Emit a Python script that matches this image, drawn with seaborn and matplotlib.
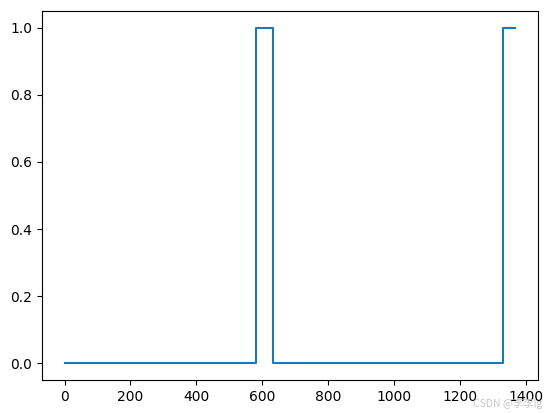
import matplotlib
matplotlib.use('Agg')
import matplotlib.pyplot as plt
import seaborn as sns

# step signal: value held from each x until the next one
step_x = [0, 582, 632, 1330, 1369]
step_y = [0, 1, 0, 1, 1]

fig = plt.figure(figsize=(5.51, 4.13), dpi=100)
ax = fig.add_axes([42 / 551, 1 - 380 / 413, 496 / 551, 369 / 413])

sns.lineplot(x=step_x, y=step_y, drawstyle='steps-post', color='#1f77b4', linewidth=1.5, ax=ax)

ax.set_xticks([0, 200, 400, 600, 800, 1000, 1200, 1400])
ax.set_yticks([0.0, 0.2, 0.4, 0.6, 0.8, 1.0])

# watermark
fig.text(473 / 551, 0.01, 'CSDN @李李lg', ha='left', va='bottom', fontsize=7.5,
         color='#c8c8c8', family=['Noto Sans CJK SC', 'DejaVu Sans'])

fig.savefig('out.png', dpi=100)
